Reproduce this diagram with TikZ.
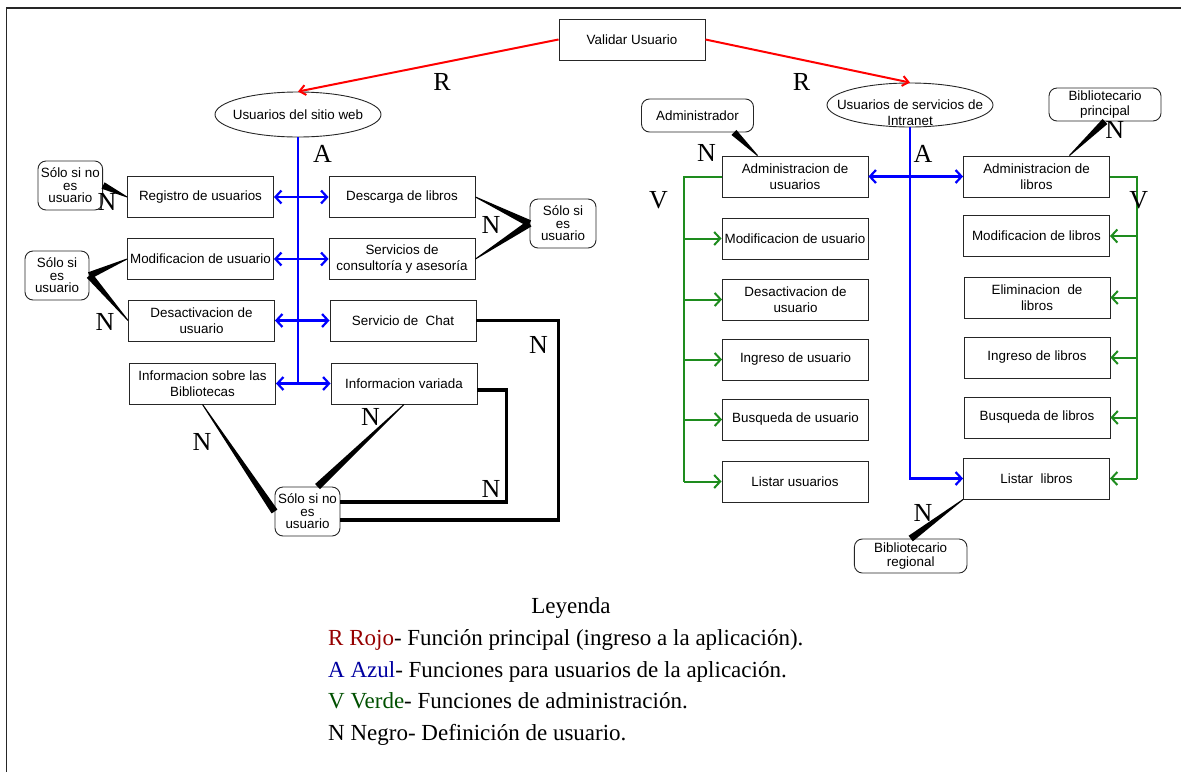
\documentclass[tikz,border=0pt]{standalone}
\usepackage{fontspec}
\setmainfont{Liberation Serif}
\setsansfont{Liberation Sans}
\usetikzlibrary{shapes,arrows.meta,positioning,calc}

\definecolor{verdeln}{RGB}{30,140,30}
\definecolor{rojoley}{RGB}{150,0,0}
\definecolor{azulley}{RGB}{0,0,160}
\definecolor{verdeley}{RGB}{0,80,0}

\newcommand{\cuna}[2]{\fill ($(#1)!0.5pt!90:(#2)$) -- ($(#1)!0.5pt!-90:(#2)$) -- ($(#2)!3.5pt!90:(#1)$) -- ($(#2)!3.5pt!-90:(#1)$) -- cycle;}

\begin{document}
\begin{tikzpicture}[x=1pt,y=-1pt,
  txt/.style={font=\sffamily\fontsize{13.4}{16.5}\selectfont},
  caja/.style={txt,draw=black!85,line width=0.9pt,minimum width=146pt,minimum height=41pt,inner sep=1pt,align=center},
  nube/.style={draw=black!85,line width=0.9pt,rounded corners=8pt,inner sep=0pt,align=center,font=\sffamily\fontsize{13.4}{12.5}\selectfont},
  elipse/.style={draw=black!85,line width=0.9pt,ellipse,minimum width=166pt,minimum height=45pt,inner sep=0pt},
  letra/.style={inner sep=0pt,font=\fontsize{26}{26}\selectfont},
  leyenda/.style={inner sep=0pt,font=\fontsize{23}{23}\selectfont},
  rojo/.style={draw=red,line width=2pt,-{Straight Barb[length=6pt,width=10pt]}},
  azul/.style={draw=blue,line width=2.2pt},
  verde/.style={draw=verdeln,line width=2pt},
  grueso/.style={draw=black,line width=3.5pt},
  >={Straight Barb[length=6pt,width=13pt]}]
  \useasboundingbox (0,0) rectangle (1181,772);
  \draw[line width=1.5pt,black!85] (6.5,772) -- (6.5,8) -- (1181,8);

  \node[caja] (validar) at (632,39.5) {Validar Usuario};
  \node[elipse,label={[txt]center:Usuarios del sitio web}] (sitio) at (298,114.5) {};
  \node[elipse,minimum height=44pt,label={[txt,align=center,yshift=-7.5pt]center:{Usuarios de servicios de\\Intranet}}] (intranet) at (910,105) {};

  \node[caja] (registro) at (200.5,197) {Registro de usuarios};
  \node[caja] (descarga) at (402,197) {Descarga de libros};
  \node[caja] (modif) at (200.5,259) {Modificacion de usuario};
  \node[caja] (servicios) at (402,259) {Servicios de\\consultoría y asesoría};
  \node[caja] (desact) at (201.5,320.5) {Desactivacion de\\usuario};
  \node[caja] (chat) at (403,320.5) {Servicio de\ \ Chat};
  \node[caja] (infobib) at (202.5,383.5) {Informacion sobre las\\Bibliotecas};
  \node[caja] (infovar) at (404,383.5) {Informacion variada};

  \node[nube,minimum width=64.6pt,minimum height=49pt] (solo1) at (70.3,185.5) {Sólo si no\\es\\usuario};
  \node[nube,minimum width=66pt,minimum height=49pt] (solo2) at (563,223.5) {Sólo si\\es\\usuario};
  \node[nube,minimum width=64pt,minimum height=49pt] (solo3) at (57,275.5) {Sólo si\\es\\usuario};
  \node[nube,minimum width=65pt,minimum height=49pt] (solo4) at (307.5,511.5) {Sólo si no\\es\\usuario};

  \node[caja] (admusu) at (795,176.5) {Administracion de\\usuarios};
  \node[caja] (modusu) at (795,238.5) {Modificacion de usuario};
  \node[caja] (desusu) at (795.5,299.5) {Desactivacion de\\usuario};
  \node[caja] (ingusu) at (795.5,359.5) {Ingreso de usuario};
  \node[caja] (bususu) at (795.5,419.5) {Busqueda de usuario};
  \node[caja] (lisusu) at (795,481.5) {Listar usuarios};

  \node[caja] (admlib) at (1036.5,176.5) {Administracion de\\libros};
  \node[caja] (modlib) at (1036.5,236) {Modificacion de libros};
  \node[caja] (elilib) at (1037,297.5) {Eliminacion\ \ de\\libros};
  \node[caja] (inglib) at (1037,357.5) {Ingreso de libros};
  \node[caja] (buslib) at (1037,417.5) {Busqueda de libros};
  \node[caja] (lislib) at (1036.5,478.5) {Listar\ \ libros};

  \node[nube,minimum width=112pt,minimum height=33pt,font=\sffamily\fontsize{13.4}{15}\selectfont] (admin) at (697.5,115.5) {Administrador};
  \node[nube,minimum width=112pt,minimum height=33pt,font=\sffamily\fontsize{13.4}{15}\selectfont] (bibp) at (1105,104.5) {Bibliotecario\\principal};
  \node[nube,minimum width=112.6pt,minimum height=34pt,font=\sffamily\fontsize{13.4}{14}\selectfont] (bibr) at (910.7,556) {Bibliotecario\\regional};

  \draw[rojo] (validar.west) -- (sitio.north);
  \draw[rojo] (validar.east) -- (intranet.north);

  \coordinate (finA) at (298,383.5);
  \draw[azul] (sitio.south) -- (finA);
  \foreach \a/\b in {registro/descarga,modif/servicios,desact/chat,infobib/infovar}
    \draw[azul,<->] (\a.east) -- (\b.west);
  \draw[azul,->] (intranet.south) |- (lislib.west);
  \draw[azul,<->] (admusu.east) -- (admlib.west);

  \coordinate (vi) at (684.3,176.5);
  \draw[verde] (admusu.west) -- (vi) -- (vi |- lisusu.west);
  \foreach \n in {modusu,desusu,ingusu,bususu,lisusu}
    \draw[verde,->] (vi |- \n.west) -- (\n.west);
  \coordinate (vd) at (1136.5,176.5);
  \draw[verde] (admlib.east) -- (vd) -- (vd |- lislib.east);
  \foreach \n in {modlib,elilib,inglib,buslib,lislib}
    \draw[verde,->] (vd |- \n.east) -- (\n.east);

  \coordinate (pa) at ($(admusu.north west)!0.245!(admusu.north east)$);
  \coordinate (pb) at ([xshift=-20pt]admin.south east);
  \coordinate (pc) at ($(admlib.north west)!0.724!(admlib.north east)$);
  \coordinate (pd) at ([xshift=10pt]solo4.north);
  \cuna{registro.west}{solo1.east}
  \cuna{descarga.east}{solo2.west}
  \cuna{servicios.east}{solo2.west}
  \cuna{modif.west}{solo3.east}
  \cuna{desact.west}{solo3.east}
  \cuna{infobib.south}{solo4.west}
  \cuna{infovar.south}{pd}
  \cuna{pa}{pb}
  \cuna{pc}{bibp.south}
  \cuna{lislib.south west}{bibr.north}
  \draw[grueso] (chat.east) -- ++(82,0) |- ([yshift=-8.5pt]solo4.east);
  \draw[grueso] ([yshift=-6.5pt]infovar.east) -- ++(29,0) |- ([yshift=9.5pt]solo4.east);

  \node[letra] (r1) at (442,82) {R};
  \node[letra] (r2) at (801.5,82) {R};
  \node[letra] (a1) at (322.6,154) {A};
  \node[letra] (a2) at (923,154) {A};
  \node[letra] (v1) at (658.6,200) {V};
  \node[letra] (v2) at (1138.8,200) {V};
  \foreach \p [count=\i] in {(107,202),(491,225),(105,322),(538.5,345),(491,489),(202,442),(370.5,417),(706.5,153),(1114.7,130),(923,513)}
    \node[letra] (n\i) at \p {N};

  \node[leyenda,anchor=base] (ley) at (571,613) {Leyenda};
  \node[leyenda,anchor=base west] (ley1) at (328,645) {\textcolor{rojoley}{R Rojo}- Función principal (ingreso a la aplicación).};
  \node[leyenda,anchor=base west] (ley2) at (328,677) {\textcolor{azulley}{A Azul}- Funciones para usuarios de la aplicación.};
  \node[leyenda,anchor=base west] (ley3) at (328,708.5) {\textcolor{verdeley}{V Verde}- Funciones de administración.};
  \node[leyenda,anchor=base west] (ley4) at (328,740) {N Negro- Definición de usuario.};
\end{tikzpicture}
\end{document}
